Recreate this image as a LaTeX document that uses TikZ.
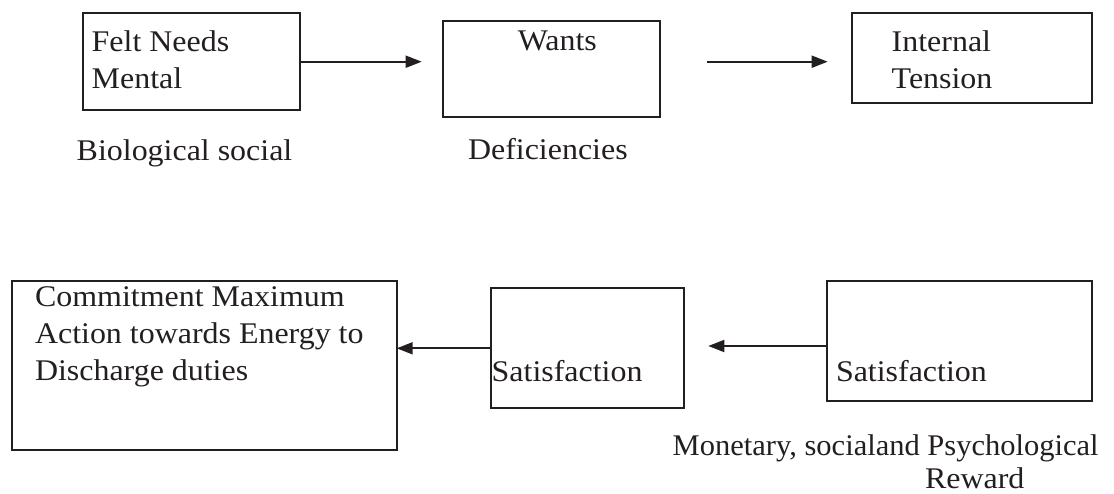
\documentclass[tikz,border=0pt]{standalone}
\usepackage{fontspec}
\setmainfont{Liberation Serif}[FakeStretch=1.065]
\usetikzlibrary{arrows.meta}
\definecolor{ink}{RGB}{35,31,32}
\begin{document}
\begin{tikzpicture}[x=1pt,y=-1pt,
  box/.style={draw=ink,line width=2pt,rectangle,inner sep=0pt,outer sep=0pt,anchor=north west},
  txt/.style={text=ink,inner sep=0pt,outer sep=0pt,anchor=base west,align=left,font=\fontsize{30}{37}\selectfont},
  conn/.style={draw=ink,line width=1.8pt,-{Triangle[length=16pt,width=12pt]}}]
\useasboundingbox[fill=white] (0,0) rectangle (1114,493);
% boxes
\node[box,minimum width=217.3pt,minimum height=96.7pt] (b1) at (82.7,13.3) {};
\node[box,minimum width=217.3pt,minimum height=96.6pt] (b2) at (442.7,20.7) {};
\node[box,minimum width=240.6pt,minimum height=89.4pt] (b3) at (851.7,13.3) {};
\node[box,minimum width=385pt,minimum height=169.3pt] (b4) at (11.7,280.7) {};
\node[box,minimum width=193pt,minimum height=120pt] (b5) at (491,288.3) {};
\node[box,minimum width=265pt,minimum height=119.7pt] (b6) at (827.3,281) {};
% texts (multi-line nodes anchored at the baseline of their last line)
\node[txt] (t1) at (91.7,88.3) {Felt Needs\\Mental};
\node[txt,anchor=base] (t2) at (557.3,50.7) {Wants};
\node[txt] (t3) at (891.7,88.3) {Internal\\Tension};
\node[txt] (l1) at (76.7,160) {Biological social};
\node[txt] (l2) at (468,159.3) {Deficiencies};
\node[txt] (t4) at (35,380) {Commitment Maximum\\Action towards Energy to\\Discharge duties};
\node[txt] (t5) at (491.7,381.7) {Satisfaction};
\node[txt] (t6) at (836,381.7) {Satisfaction};
\node[txt,xscale=0.955,transform shape] (l3) at (672.7,455) {Monetary, socialand Psychological};
\node[txt] (l4) at (925,488) {Reward};
% connectors
\coordinate (a1) at (421.7,61.7);
\coordinate (a2s) at (706.7,61.7);
\coordinate (a2e) at (827.7,61.7);
\coordinate (a4s) at (827.3,346);
\coordinate (a4e) at (708.3,346);
\draw[conn] (b1.east |- a1) -- (a1);
\draw[conn] (a2s) -- (a2e);
\draw[conn] (b5.west) -- (b4.east |- b5.west);
\draw[conn] (a4s) -- (a4e);
\end{tikzpicture}
\end{document}
